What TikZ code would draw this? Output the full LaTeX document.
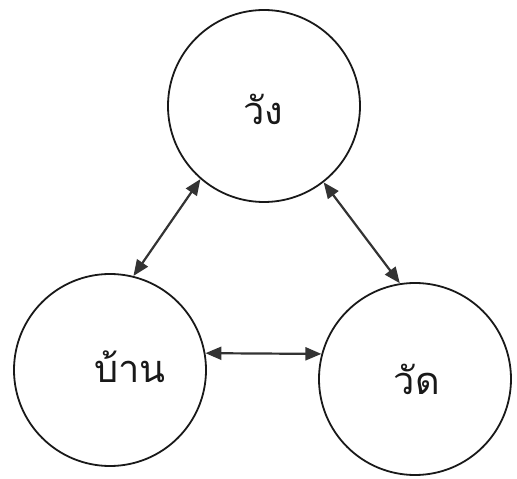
\documentclass[tikz,border=0pt]{standalone}
\usepackage{fontspec}
\newfontfamily\thaifont[Script=Thai]{Loma}
\usetikzlibrary{arrows.meta}
\begin{document}
\begin{tikzpicture}[x=1pt,y=1pt,
  circ/.style={circle,draw=black!90,line width=1.8pt,minimum size=192pt,inner sep=0pt},
  lbl/.style={font=\thaifont\fontsize{38}{42}\selectfont,text=black!90,anchor=base,inner sep=0pt},
  conn/.style={draw=black!80,line width=2.2pt,{Triangle[length=16pt,width=13pt]}-{Triangle[length=16pt,width=13pt]}}]
\useasboundingbox (0,0) rectangle (517,479);
\node[circ] (T) at (264,373) {};
\node[circ] (L) at (110,109) {};
\node[circ] (R) at (415,100) {};
\node[lbl] (tT) at (263,354) {วัง};
\node[lbl] (tL) at (130,96) {บ้าน};
\node[lbl] (tR) at (417,84) {วัด};
\draw[conn] (T.229) -- (L.76);
\draw[conn] (T.308) -- (R.99);
\draw[conn] (L.10) -- (R.165);
\end{tikzpicture}
\end{document}
